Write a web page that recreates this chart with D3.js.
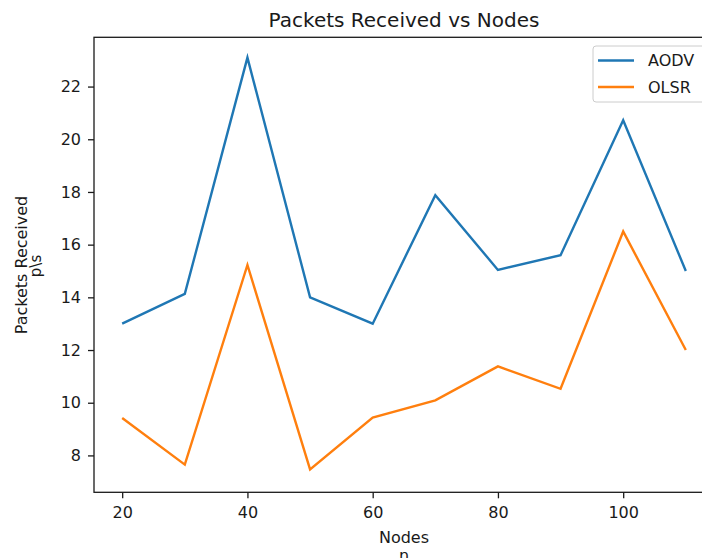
<!DOCTYPE html>
<html lang='en'>
    <head>
        <script src="https://d3js.org/d3.v7.min.js"></script>
    </head>
    <style>
        body{
            margin:0px;
            padding:0px;
            background-color:white;
        }
        svg{
            display:block;
            font-family:"DejaVu Sans", sans-serif;
        }
        .line{
            fill:none;
            stroke-width:2.4;
            stroke-linejoin:miter;
        }
        .tick text{
            font-size:16px;
            fill:#1a1a1a;
        }
        .tick line{
            stroke:#1a1a1a;
            stroke-width:1.3;
        }
    </style>
    <body>
        <svg id="chart" width="702" height="558"></svg>
        <script>
            // chart data
            const nodes=[20,30,40,50,60,70,80,90,100,110];
            const aodv=[13.0,14.13,23.1,14.0,13.0,17.88,15.04,15.6,20.72,15.0];
            const olsr=[9.42,7.65,15.23,7.47,9.44,10.09,11.38,10.53,16.5,12.0];
            const xTicks=[20,40,60,80,100];
            const yTicks=[8,10,12,14,16,18,20,22];
            const seriesNames=['AODV','OLSR'];
            const colors=['#1f77b4','#ff7f0e'];

            const plotLeft=94, plotRight=714, plotTop=37.3, plotBottom=492.3;

            const xScale=d3.scaleLinear()
                           .domain([15.5,114.5])
                           .range([plotLeft,plotRight]);
            const yScale=d3.scaleLinear()
                           .domain([6.6,23.87])
                           .range([plotBottom,plotTop]);

            const svg=d3.select('#chart');

            // axes
            const xAxis=d3.axisBottom(xScale)
                          .tickValues(xTicks)
                          .tickSize(6)
                          .tickSizeOuter(0)
                          .tickPadding(8);
            const yAxis=d3.axisLeft(yScale)
                          .tickValues(yTicks)
                          .tickSize(6)
                          .tickSizeOuter(0)
                          .tickPadding(7);

            svg.append('g')
               .attr('transform','translate(0,'+plotBottom+')')
               .call(xAxis)
               .call(g=>g.select('.domain').remove())
               .selectAll('text').attr('font-family','DejaVu Sans');

            svg.append('g')
               .attr('transform','translate('+plotLeft+',0)')
               .call(yAxis)
               .call(g=>g.select('.domain').remove())
               .selectAll('text').attr('font-family','DejaVu Sans');

            // lines
            const series=[aodv,olsr];
            const line=d3.line()
                         .x((d,i)=>xScale(nodes[i]))
                         .y(d=>yScale(d));

            svg.selectAll('.line')
               .data(series)
               .enter()
               .append('path')
               .attr('class','line')
               .attr('stroke',(d,i)=>colors[i])
               .attr('d',line);

            // frame
            svg.append('rect')
               .attr('x',plotLeft)
               .attr('y',plotTop)
               .attr('width',plotRight-plotLeft)
               .attr('height',plotBottom-plotTop)
               .attr('fill','none')
               .attr('stroke','#1a1a1a')
               .attr('stroke-width',1.3);

            // title and labels
            svg.append('text')
               .attr('x',(plotLeft+plotRight)/2)
               .attr('y',26.7)
               .attr('text-anchor','middle')
               .attr('font-size','20px')
               .attr('fill','#1a1a1a')
               .text('Packets Received vs Nodes');

            svg.append('text')
               .attr('transform','translate(27,265) rotate(-90)')
               .attr('text-anchor','middle')
               .attr('font-size','16px')
               .attr('fill','#1a1a1a')
               .text('Packets Received');
            svg.append('text')
               .attr('transform','translate(41,266) rotate(-90)')
               .attr('text-anchor','middle')
               .attr('font-size','15px')
               .attr('fill','#1a1a1a')
               .text('p\\s');

            svg.append('text')
               .attr('x',(plotLeft+plotRight)/2)
               .attr('y',543.3)
               .attr('text-anchor','middle')
               .attr('font-size','16px')
               .attr('fill','#1a1a1a')
               .text('Nodes');
            svg.append('text')
               .attr('x',(plotLeft+plotRight)/2)
               .attr('y',561)
               .attr('text-anchor','middle')
               .attr('font-size','16px')
               .attr('fill','#1a1a1a')
               .text('n');

            // legend
            const legend=svg.append('g').attr('transform','translate(593,46)');
            legend.append('rect')
                  .attr('width',125)
                  .attr('height',56)
                  .attr('rx',3)
                  .attr('fill','white')
                  .attr('fill-opacity',0.8)
                  .attr('stroke','#cccccc')
                  .attr('stroke-width',1);
            const item=legend.selectAll('.item')
                             .data(seriesNames)
                             .enter()
                             .append('g')
                             .attr('class','item')
                             .attr('transform',(d,i)=>'translate(0,'+(14.5+i*26.5)+')');
            item.append('line')
                .attr('x1',5)
                .attr('x2',41)
                .attr('stroke',(d,i)=>colors[i])
                .attr('stroke-width',2.4);
            item.append('text')
                .attr('x',55)
                .attr('dy','0.36em')
                .attr('font-size','16px')
                .attr('fill','#1a1a1a')
                .text(d=>d);
        </script>
    </body>
</html>
